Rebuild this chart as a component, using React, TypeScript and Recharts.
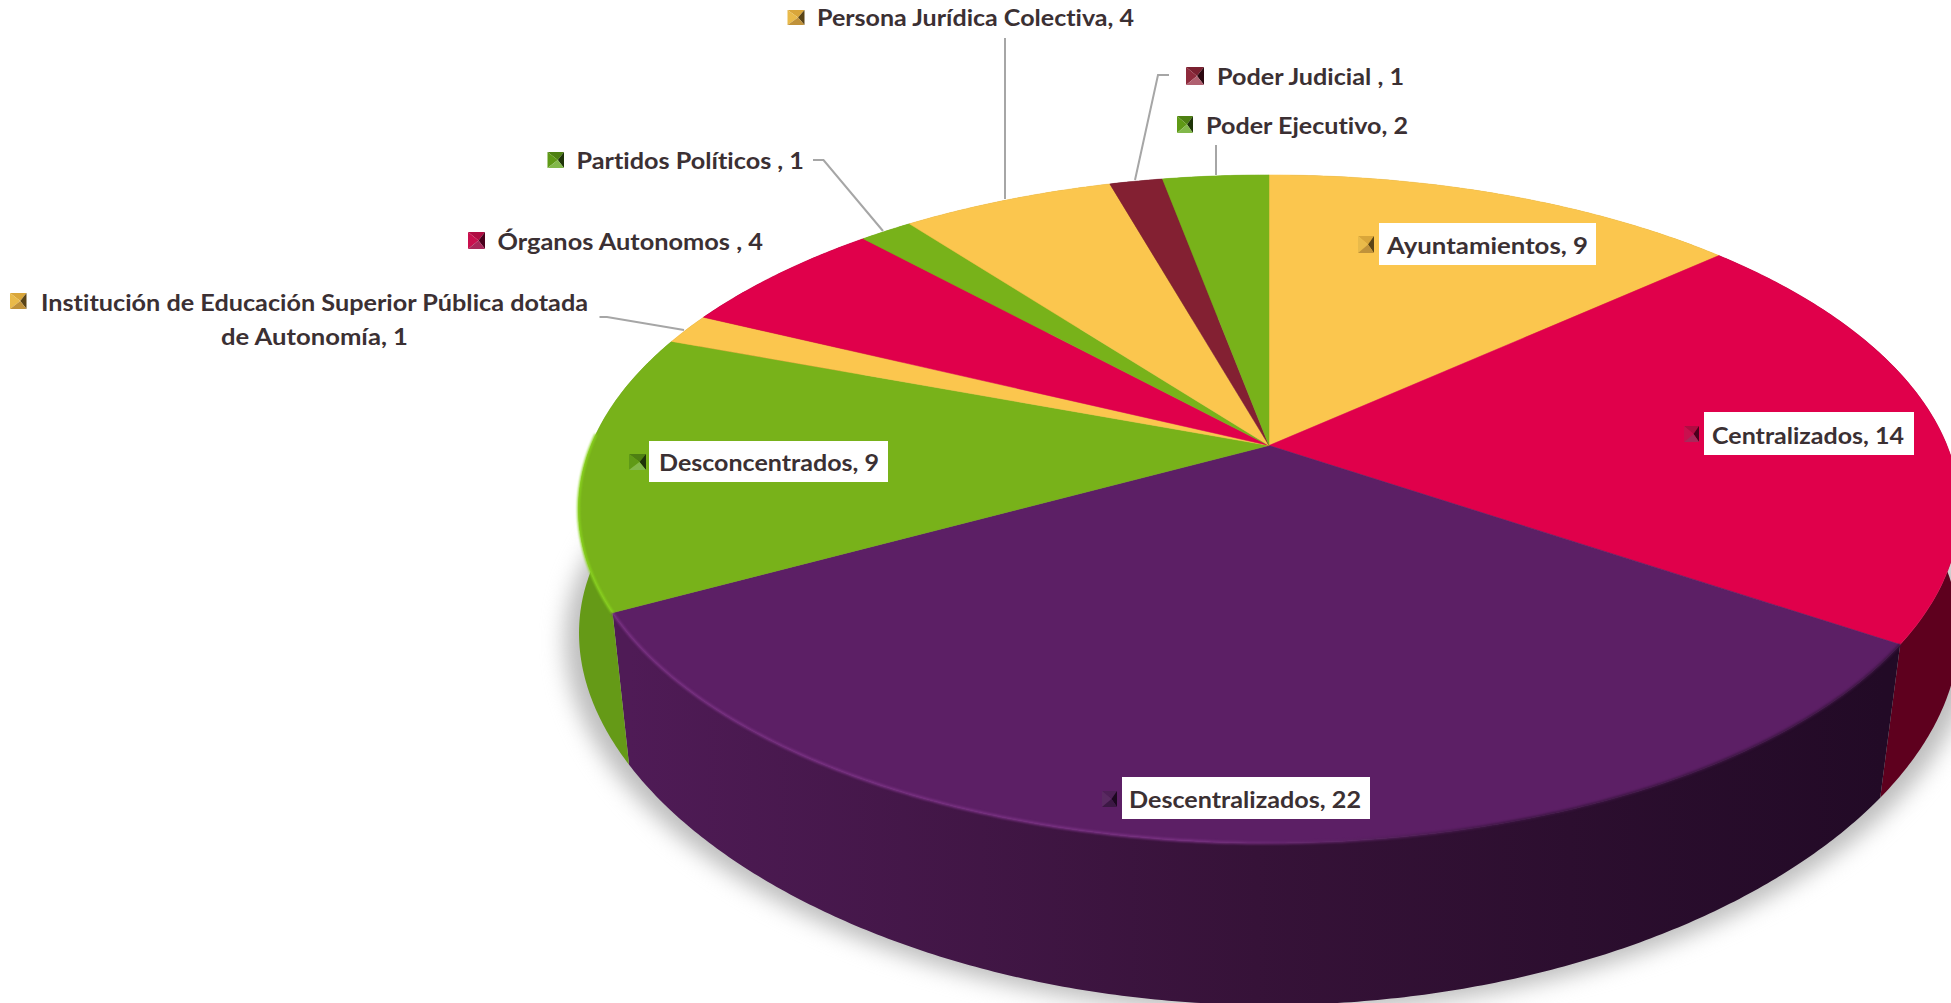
import React from "react";
import { PieChart, Pie } from "recharts";

const W = 1951;
const H = 1003;

const categories = [
  "Ayuntamientos",
  "Centralizados",
  "Descentralizados",
  "Desconcentrados",
  "Institución de Educación Superior Pública dotada de Autonomía",
  "Órganos Autonomos",
  "Partidos Políticos",
  "Persona Jurídica Colectiva",
  "Poder Judicial",
  "Poder Ejecutivo",
];
const values = [9, 14, 22, 9, 1, 4, 1, 4, 1, 2];
const labelLines = [
  ["Ayuntamientos, 9"],
  ["Centralizados, 14"],
  ["Descentralizados, 22"],
  ["Desconcentrados, 9"],
  ["Institución de Educación Superior Pública dotada", "de Autonomía, 1"],
  ["Órganos Autonomos , 4"],
  ["Partidos Políticos , 1"],
  ["Persona Jurídica Colectiva, 4"],
  ["Poder Judicial , 1"],
  ["Poder Ejecutivo, 2"],
];

const YELLOW = "#FBC64E";
const RED = "#E0004B";
const PURPLE = "#5C1F65";
const GREEN = "#78B21A";
const MAROON = "#832032";
const colors = [YELLOW, RED, PURPLE, GREEN, YELLOW, RED, GREEN, YELLOW, MAROON, GREEN];

// wall gradient stops (left, middle, right)
const wallStops: Record<string, string[]> = {
  [YELLOW]: ["#B58C2E", "#B58C2E", "#B58C2E"],
  [RED]: ["#5E001E", "#5E001E", "#5E001E"],
  [PURPLE]: ["#4F1B56", "#361238", "#220A26"],
  [GREEN]: ["#659A17", "#659A17", "#659A17"],
  [MAROON]: ["#5A1622", "#5A1622", "#5A1622"],
};
const rimStops: Record<string, string[]> = {
  Descentralizados: ["#7A3184", "#7A3184", "#3a1440"],
  Desconcentrados: ["#8AD41E", "#8AD41E", "#8AD41E"],
};
// marker facets: top, left, right, bottom
const markerFacets: Record<string, string[]> = {
  [YELLOW]: ["#D9A63A", "#E9BA4A", "#5A4416", "#C0923A"],
  [RED]: ["#B00C42", "#C9104E", "#4A001C", "#A8285A"],
  [PURPLE]: ["#4E2056", "#5A2A62", "#1C0820", "#3C1844"],
  [GREEN]: ["#4E8012", "#5F9A16", "#1E3408", "#82B84A"],
  [MAROON]: ["#7A2030", "#8E2A3C", "#2C0810", "#B06070"],
};

// Perspective of the top and bottom faces
const CX = 1269;
const CY = 445.5;
const TOP = { rx: 678, ry: 322, kx: 0.19, ky: 0.19, dy: 0 };
const BOTTOM = { rx: 685, ry: 330, kx: 0.12, ky: 0.2, dy: 147 };

type Plane = typeof TOP;

const project = (angleDeg: number, p: Plane): [number, number] => {
  const a = ((90 - angleDeg) * Math.PI) / 180;
  const u = Math.sin(a);
  const v = -Math.cos(a);
  return [CX + (p.rx * u) / (1 - p.kx * v), CY + p.dy + (p.ry * v) / (1 - p.ky * v)];
};

const arcPoints = (start: number, end: number, p: Plane) => {
  const n = Math.max(2, Math.ceil(Math.abs(end - start) * 2));
  const pts: [number, number][] = [];
  for (let i = 0; i <= n; i++) pts.push(project(start + ((end - start) * i) / n, p));
  return pts;
};
const toPath = (pts: [number, number][]) =>
  pts.map((q, i) => `${i ? "L" : "M"}${q[0].toFixed(2)},${q[1].toFixed(2)}`).join("");

const RIM_LIMIT_ANGLE = -182;

const TopShape = (props: any) => {
  const d = `M${CX},${CY}` + toPath(arcPoints(props.startAngle, props.endAngle, TOP)).replace("M", "L") + "Z";
  const name = props.name ?? props.payload?.name;
  const rim = rimStops[name];
  const id = `rim-${Math.round(Math.abs(props.startAngle))}`;
  return (
    <g>
      <path d={d} fill={props.fill} stroke={props.fill} strokeWidth={0.5} />
      {rim && (
        <>
          <defs>
            <linearGradient id={id} gradientUnits="userSpaceOnUse" x1={629} x2={1883} y1={0} y2={0}>
              <stop offset="0" stopColor={rim[0]} />
              <stop offset="0.45" stopColor={rim[1]} />
              <stop offset="0.7" stopColor={rim[2]} />
            </linearGradient>
          </defs>
          <path
            d={toPath(arcPoints(props.startAngle, Math.max(props.endAngle, RIM_LIMIT_ANGLE), TOP))}
            fill="none"
            stroke={`url(#${id})`}
            strokeWidth={2.5}
            style={{ filter: "blur(0.8px)" }}
          />
        </>
      )}
    </g>
  );
};

const WallShape = (props: any) => {
  const topArc = arcPoints(props.startAngle, props.endAngle, TOP);
  const botArc = arcPoints(props.endAngle, props.startAngle, BOTTOM);
  const stops = wallStops[props.fill];
  const id = `wall-${Math.round(Math.abs(props.startAngle))}`;
  return (
    <g>
      <defs>
        <linearGradient id={id} gradientUnits="userSpaceOnUse" x1={629} x2={1883} y1={0} y2={0}>
          <stop offset="0" stopColor={stops[0]} />
          <stop offset="0.5" stopColor={stops[1]} />
          <stop offset="1" stopColor={stops[2]} />
        </linearGradient>
      </defs>
      <path d={toPath(topArc) + toPath(botArc).replace("M", "L") + "Z"} fill={`url(#${id})`} />
    </g>
  );
};

const ShadowShape = (props: any) => {
  const pts = arcPoints(props.startAngle, props.endAngle, { ...BOTTOM, rx: BOTTOM.rx * 1.02, dy: BOTTOM.dy + 8 });
  return <path d={toPath(pts) + "Z"} fill="#bdbdbd" style={{ filter: "blur(11px)" }} />;
};

// Label placement: marker box [x, y, w, h], white box [x, y, w, h] or null,
// text rows [x, centreY, width], leader polyline
type Layout = {
  marker: number[];
  box: number[] | null;
  rows: number[][];
  leader: number[][] | null;
};
const layout: Layout[] = [
  { marker: [1358, 236, 16, 17], box: [1379, 223, 217, 42], rows: [[1387, 246, 201]], leader: null },
  { marker: [1684, 426, 15, 16], box: [1704, 412, 210, 43], rows: [[1712, 436, 192]], leader: null },
  { marker: [1102, 791, 15, 16], box: [1122, 777, 248, 42], rows: [[1129, 800, 232]], leader: null },
  { marker: [629, 454, 17, 16], box: [649, 441, 239, 41], rows: [[659, 463, 220]], leader: null },
  {
    marker: [10, 293, 16.5, 16],
    box: null,
    rows: [[41, 303, 547], [221, 337, 187]],
    leader: [[599.5, 317], [607, 317], [684, 330]],
  },
  { marker: [468, 232, 17, 17], box: null, rows: [[497.5, 242, 265.5]], leader: null },
  {
    marker: [547.5, 152, 16.5, 16],
    box: null,
    rows: [[576.5, 161, 227.5]],
    leader: [[813, 160], [823.5, 160], [883, 231]],
  },
  {
    marker: [787.5, 10, 17, 15],
    box: null,
    rows: [[817, 18, 317]],
    leader: [[1005, 38], [1005, 199]],
  },
  {
    marker: [1186, 67, 18, 18],
    box: null,
    rows: [[1217, 77, 187]],
    leader: [[1169, 75], [1158, 75], [1135, 180]],
  },
  {
    marker: [1177, 116, 16, 17],
    box: null,
    rows: [[1206, 126, 202]],
    leader: [[1216, 145], [1216, 175]],
  },
];

const Marker = ({ rect, fill }: { rect: number[]; fill: string }) => {
  const [x, y, w, h] = rect;
  const c = [x + w / 2 + 2, y + h / 2];
  const f = markerFacets[fill];
  const tri = (a: number[], b: number[]) => `${a[0]},${a[1]} ${b[0]},${b[1]} ${c[0]},${c[1]}`;
  const tl = [x, y], tr = [x + w, y], br = [x + w, y + h], bl = [x, y + h];
  return (
    <g>
      <polygon points={tri(tl, tr)} fill={f[0]} />
      <polygon points={tri(tl, bl)} fill={f[1]} />
      <polygon points={tri(tr, br)} fill={f[2]} />
      <polygon points={tri(bl, br)} fill={f[3]} />
    </g>
  );
};

const renderLabel = (props: any) => {
  const i = props.index;
  const L = layout[i];
  return (
    <g key={i}>
      {L.leader && (
        <polyline
          points={L.leader.map((p) => p.join(",")).join(" ")}
          fill="none"
          stroke="#A6A6A6"
          strokeWidth={2}
        />
      )}
      {L.box && <rect x={L.box[0]} y={L.box[1]} width={L.box[2]} height={L.box[3]} fill="#FFFFFF" />}
      <Marker rect={L.marker} fill={colors[i]} />
      {labelLines[i].map((t, r) => (
        <text
          key={r}
          x={L.rows[r][0]}
          y={L.rows[r][1]}
          dy="0.36em"
          textLength={L.rows[r][2]}
          lengthAdjust="spacingAndGlyphs"
          fontFamily="Lato, sans-serif"
          fontWeight={700}
          fontSize={23.5}
          fill="#3B3033"
          style={{ fontVariantLigatures: "none" }}
        >
          {t}
        </text>
      ))}
    </g>
  );
};

const data = categories.map((name, i) => ({ name, value: values[i], fill: colors[i] }));
const totalData = [{ name: "Total", value: values.reduce((a, b) => a + b, 0), fill: "#bdbdbd" }];

const common = {
  dataKey: "value",
  nameKey: "name",
  cx: CX,
  cy: CY,
  outerRadius: 300,
  startAngle: 90,
  endAngle: -270,
  stroke: "none",
  isAnimationActive: false,
};

export default function App() {
  return (
    <div style={{ position: "absolute", left: 0, top: 0, width: W, height: H, overflow: "hidden", background: "#fff" }}>
      <PieChart width={W} height={H} margin={{ top: 0, right: 0, bottom: 0, left: 0 }}>
        <Pie {...common} data={totalData} shape={ShadowShape} label={false} labelLine={false} />
        <Pie {...common} data={data} shape={WallShape} label={false} labelLine={false} />
        <Pie {...common} data={data} shape={TopShape} label={renderLabel} labelLine={false} />
      </PieChart>
    </div>
  );
}
